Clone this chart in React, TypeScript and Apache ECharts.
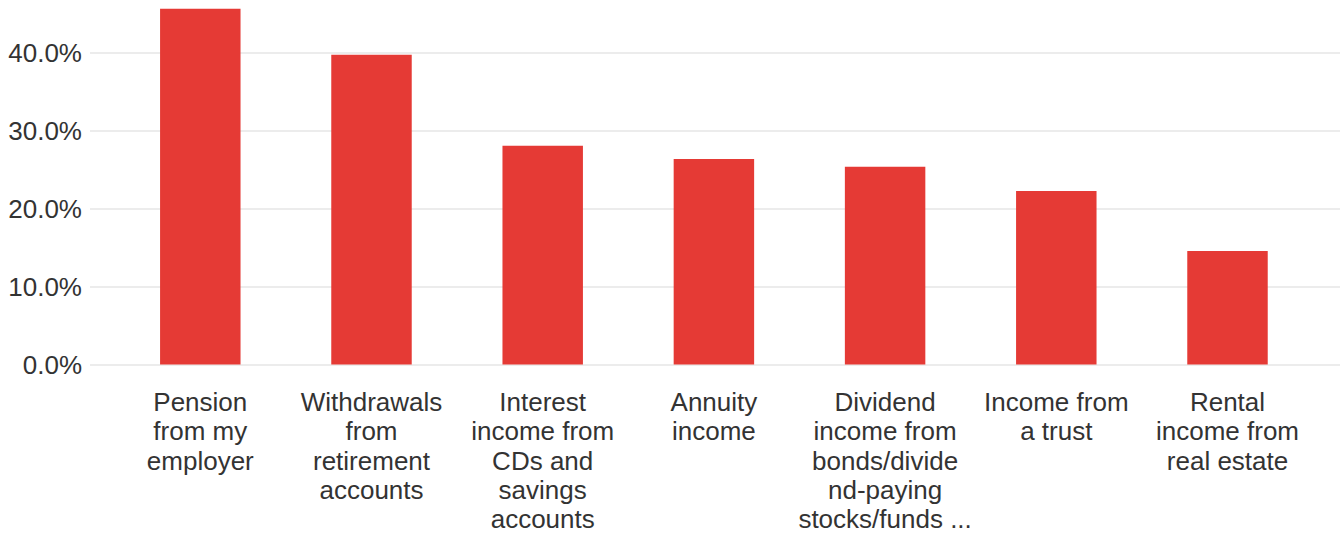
import React, { useEffect, useRef } from "react";
import * as echarts from "echarts";

const categories = [
  "Pension from my employer",
  "Withdrawals from retirement accounts",
  "Interest income from CDs and savings accounts",
  "Annuity income",
  "Dividend income from bonds/dividend-paying stocks/funds",
  "Income from a trust",
  "Rental income from real estate",
];

const tickLabels = [
  "Pension\nfrom my\nemployer",
  "Withdrawals\nfrom\nretirement\naccounts",
  "Interest\nincome from\nCDs and\nsavings\naccounts",
  "Annuity\nincome",
  "Dividend\nincome from\nbonds/divide\nnd-paying\nstocks/funds ...",
  "Income from\na trust",
  "Rental\nincome from\nreal estate",
];

const values = [45.7, 39.8, 28.1, 26.4, 25.4, 22.3, 14.6];

const yTicks = [0, 10, 20, 30, 40];

const FONT = "'Liberation Sans', Arial, sans-serif";

export default function App() {
  const ref = useRef<HTMLDivElement>(null);
  useEffect(() => {
    if (!ref.current) return;
    const chart = echarts.init(ref.current, null, { renderer: "svg" });
    const zeroY = 364.5;
    const pxPer = 7.782;
    const barMax = 46;
    chart.setOption({
      animation: false,
      backgroundColor: "#ffffff",
      grid: [
        {
          left: 90,
          right: 0,
          top: zeroY - 40 * pxPer,
          height: 40 * pxPer,
          outerBoundsMode: "none",
          containLabel: false,
        },
        {
          left: 114.7,
          right: 26.9,
          top: zeroY - barMax * pxPer,
          height: barMax * pxPer,
          outerBoundsMode: "none",
          containLabel: false,
        },
      ],
      xAxis: [
        {
          type: "category",
          gridIndex: 0,
          data: categories,
          show: false,
        },
        {
          type: "category",
          gridIndex: 1,
          data: categories,
          axisLine: { show: false },
          axisTick: { show: false },
          axisLabel: {
            interval: 0,
            margin: 23,
            fontFamily: FONT,
            fontSize: 26,
            lineHeight: 29.3,
            color: "#333333",
            align: "center",
            formatter: (_v: string, i: number) => tickLabels[i],
          },
        },
      ],
      yAxis: [
        {
          type: "value",
          gridIndex: 0,
          min: 0,
          max: 40,
          interval: 10,
          axisLine: { show: false },
          axisTick: { show: false },
          splitLine: { show: true, lineStyle: { color: "#e6e6e6", width: 1.5 } },
          axisLabel: {
            margin: 8,
            fontFamily: FONT,
            fontSize: 26,
            color: "#333333",
            formatter: (v: number) => (yTicks.includes(v) ? v.toFixed(1) + "%" : ""),
          },
        },
        {
          type: "value",
          gridIndex: 1,
          min: 0,
          max: barMax,
          show: false,
          splitLine: { show: false },
        },
      ],
      series: [
        {
          type: "bar",
          xAxisIndex: 1,
          yAxisIndex: 1,
          data: values,
          barWidth: "47%",
          itemStyle: { color: "#e53a35" },
        },
      ],
    });
    return () => chart.dispose();
  }, []);
  return (
    <div
      ref={ref}
      style={{ position: "fixed", left: 0, top: 0, width: 1340, height: 533 }}
    />
  );
}
